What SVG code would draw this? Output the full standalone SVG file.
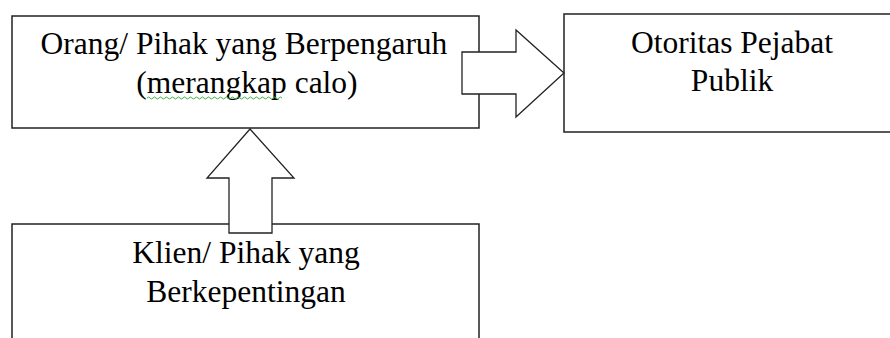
<svg xmlns="http://www.w3.org/2000/svg" width="890" height="338" viewBox="0 0 890 338">
<style>
.box{fill:#fff;stroke:#222;stroke-width:1.5}
.arrow{fill:#fff;stroke:#222;stroke-width:1.3;stroke-linejoin:miter}
.t{font-family:"Liberation Serif","Times New Roman",serif;font-size:31.5px;fill:#000;text-anchor:middle}
</style>
<rect width="890" height="338" fill="#fff"/>
<g id="node-influencer">
<rect class="box" x="12" y="16" width="467" height="112"/>
<text class="t" x="244" y="54">Orang/ Pihak yang Berpengaruh</text>
<text class="t" x="247" y="93">(merangkap calo)</text>
<path d="M147 98 q1.5 -2 3 0 t3 0 t3 0 t3 0 t3 0 t3 0 t3 0 t3 0 t3 0 t3 0 t3 0 t3 0 t3 0 t3 0 t3 0 t3 0 t3 0 t3 0 t3 0 t3 0 t3 0 t3 0 t3 0 t3 0 t3 0 t3 0 t3 0 t3 0 t3 0 t3 0 t3 0 t3 0 t3 0 t3 0 t3 0 t3 0 t3 0 t3 0 t3 0 t3 0 t3 0 t3 0 t3 0 t3 0 t3 0" fill="none" stroke="#3cb043" stroke-width="1"/>
</g>
<g id="node-official">
<rect class="box" x="564" y="14" width="340" height="118"/>
<text class="t" x="732" y="53">Otoritas Pejabat</text>
<text class="t" x="732" y="91">Publik</text>
</g>
<g id="node-client">
<rect class="box" x="12" y="224" width="467" height="130"/>
<text class="t" x="246" y="263">Klien/ Pihak yang</text>
<text class="t" x="246" y="302">Berkepentingan</text>
</g>
<g id="connectors">
<path class="arrow" d="M462 52 L516 52 L516 30 L564 73 L516 117 L516 94 L462 94 Z"/>
<path class="arrow" d="M229 233 L229 178 L207 178 L250 129 L294 178 L272 178 L272 233 Z"/>
</g>
</svg>
